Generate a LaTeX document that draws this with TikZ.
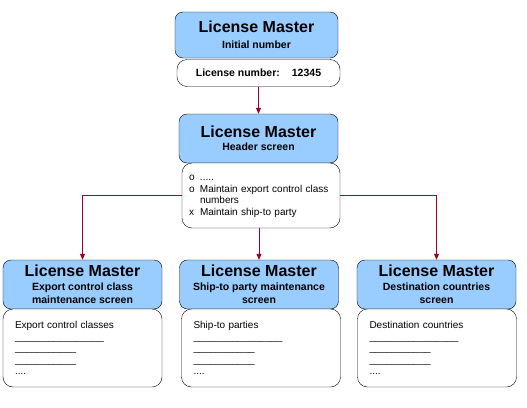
\documentclass[tikz,border=0pt]{standalone}
\usepackage{fontspec}
\setmainfont{Liberation Sans}
\usetikzlibrary{arrows.meta}
\definecolor{headblue}{RGB}{153,204,255}
\definecolor{linkred}{RGB}{160,0,40}
\newcommand{\lmtitle}{{\fontsize{16}{18}\selectfont License Master}}
\newcommand{\longline}{\_\_\_\_\_\_\_\_\_\_\_\_\_\_\_\_}
\newcommand{\shortline}{\_\_\_\_\_\_\_\_\_\_\_}

\begin{document}
\begin{tikzpicture}[x=1pt, y=-1pt,
  head/.style={draw, fill=headblue, rounded corners=8pt, align=center, inner sep=1pt,
    minimum height=49pt, font=\fontsize{10.5}{13.5}\selectfont\bfseries},
  body/.style={draw, fill=white, rounded corners=10pt, align=left,
    font=\fontsize{10}{11.5}\selectfont},
  link/.style={draw=linkred, line width=0.8pt, -{Triangle[length=6pt, width=5pt]}},
]
\useasboundingbox (0,0) rectangle (527,407);

% initial number
\node[head, minimum width=163pt, minimum height=46pt] (init) at (256.5,35) {\lmtitle\\[2pt] Initial number};
\node[body, minimum width=163pt, minimum height=27pt, align=center, font=\fontsize{10.5}{12}\selectfont\bfseries] (nr) at (258.5,73) {License number:\hspace{12pt}12345};

% header screen
\node[head, minimum width=159pt] (hdr) at (258.5,138.5) {\lmtitle\\ Header screen};
\node[body, text width=144pt, inner xsep=7pt, minimum height=65pt] (hbody) at (261,195.5) {%
  \begin{tabular}{@{}p{11pt}@{}l@{}}
  o & .....\\
  o & Maintain export control class\\
    & numbers\\
  x & Maintain ship-to party
  \end{tabular}};

% maintenance screens
\foreach \n/\x/\bx/\sub/\first in {
  exp/82.5/82.5/{Export control class\\maintenance screen}/Export control classes,
  ship/259/261/{Ship-to party maintenance\\screen}/Ship-to parties,
  dest/436.5/437/{Destination countries\\screen}/Destination countries}{
  \node[head, minimum width=159pt] (\n-head) at (\x,284.5) {\lmtitle\\ \sub};
  \node[body, text width=135pt, inner xsep=12pt, minimum height=78pt] (\n-body) at (\bx,348)
    {\first\\ \longline\\ \shortline\\ \shortline\\ ....};
}

\draw[link] (nr) -- (hdr);
\draw[link] (hbody.west) -| (exp-head.north);
\draw[link] (ship-head.north |- hbody.south) -- (ship-head.north);
\draw[link] (hbody.east) -| (dest-head.north);
\end{tikzpicture}
\end{document}
